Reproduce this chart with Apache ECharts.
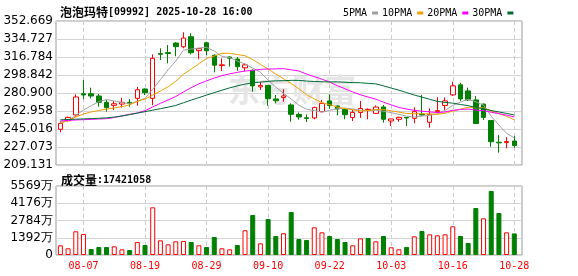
<!DOCTYPE html>
<html>
<head>
<meta charset="utf-8">
<script src="https://cdn.jsdelivr.net/npm/echarts@6/dist/echarts.min.js"></script>
<style>
  html, body { margin: 0; padding: 0; background: #fff; }
  #chart { width: 578px; height: 276px; }
</style>
</head>
<body>
<div id="chart"></div>
<script>
// 交易日
const dates = ['08-04','08-05','08-06','08-07','08-08','08-11','08-12','08-13','08-14','08-15',
  '08-18','08-19','08-20','08-21','08-22','08-25','08-26','08-27','08-28','08-29',
  '09-01','09-02','09-03','09-04','09-05','09-08','09-09','09-10','09-11','09-12',
  '09-15','09-16','09-17','09-18','09-19','09-22','09-23','09-24','09-25','09-26',
  '09-29','09-30','10-02','10-03','10-06','10-08','10-09','10-10','10-13','10-14',
  '10-15','10-16','10-17','10-20','10-21','10-22','10-23','10-24','10-27','10-28'];

const opens = [244.7,253.3,259.0,280.2,280.2,277.9,271.6,268.6,269.9,271.6,
  275.6,284.9,275.6,320.2,321.2,330.7,327.0,337.0,323.1,331.0,
  318.5,308.2,316.8,314.7,306.0,303.5,287.0,288.5,275.0,276.5,
  269.0,259.6,256.2,256.0,262.3,273.0,268.0,264.5,256.5,261.5,
  264.0,260.6,267.0,253.0,254.7,256.6,255.7,260.0,251.7,262.3,
  268.5,279.0,289.0,283.0,274.0,269.8,253.5,231.8,231.5,233.0];
const closes = [250.6,256.6,276.9,278.9,277.9,271.6,266.3,270.2,271.6,270.6,
  284.2,281.2,315.5,319.5,320.2,327.1,335.7,321.0,325.1,323.0,
  308.6,309.0,315.6,307.1,309.0,288.0,288.5,275.3,273.2,278.0,
  259.6,257.0,255.6,266.5,270.6,268.3,265.0,259.3,261.6,265.5,
  264.6,266.9,254.7,255.0,256.6,256.0,262.3,259.0,259.6,263.3,
  273.0,288.0,275.0,274.0,250.5,256.6,232.3,231.2,232.5,228.5];
const lows = [241.7,252.3,257.3,274.8,275.6,267.3,262.3,263.9,266.3,267.3,
  268.3,278.9,268.8,313.8,310.5,317.5,325.4,319.4,314.5,318.3,
  301.5,302.8,307.1,303.0,302.5,282.2,283.9,268.2,270.6,272.2,
  252.3,254.3,252.0,254.7,261.6,265.0,258.7,254.8,253.0,256.0,
  254.7,260.0,251.4,248.0,252.3,248.0,250.7,258.5,246.3,260.6,
  264.0,278.0,273.0,273.0,250.0,254.0,227.3,221.5,225.8,226.4];
const highs = [252.5,257.3,279.6,293.8,286.2,279.9,273.9,272.9,276.2,274.9,
  286.9,285.5,319.4,325.4,328.7,331.4,341.4,340.4,325.6,332.0,
  319.5,315.4,317.4,316.8,310.5,304.5,292.2,289.0,278.9,284.7,
  270.6,261.5,259.5,267.2,273.9,279.6,268.5,266.0,264.0,273.0,
  265.6,268.5,269.0,255.3,257.3,256.8,266.6,279.0,265.6,276.7,
  276.5,292.2,291.0,286.2,278.0,270.5,254.0,239.0,236.8,238.0];

// 成交量（万股）
const volumes = [783,540,1913,1695,484,646,646,700,457,403,
  1049,807,3847,1184,861,1103,1130,1049,783,646,
  1453,540,457,807,2000,3228,942,2900,1533,1760,
  3470,1291,1211,2233,1829,1533,1291,1049,783,1345,
  1372,1103,1533,621,457,646,1507,1937,1668,1587,
  1668,2315,1533,968,3793,2960,5165,3390,1829,1742.1058];

const ma5 = [251.5,253.5,258.5,264.0,268.2,272.4,274.3,273.0,271.5,270.1,
  272.6,275.6,284.6,294.2,304.1,312.7,323.6,324.7,325.8,326.4,
  322.7,317.3,316.3,312.7,309.9,305.7,301.6,293.6,286.8,280.6,
  274.9,268.6,264.7,263.3,261.9,263.6,265.2,265.9,265.0,263.9,
  263.2,263.6,262.7,261.3,259.6,257.8,256.9,257.8,258.7,260.0,
  263.4,268.6,271.8,274.7,272.1,268.8,257.7,248.9,240.6,236.2];
const ma10 = [250.5,253.5,257.0,260.0,262.0,263.5,264.8,266.0,267.3,269.1,
  272.5,274.9,278.8,282.9,287.1,292.6,299.6,304.7,310.0,315.3,
  317.7,320.5,320.5,319.2,318.1,314.2,309.5,304.9,299.7,295.2,
  290.3,285.1,279.1,275.1,271.2,269.3,266.9,265.3,264.2,262.9,
  263.4,264.4,264.3,263.2,261.8,260.5,260.3,260.2,260.0,259.8,
  260.6,262.8,264.8,266.7,266.1,266.1,263.1,260.4,257.6,254.2];
const ma20 = [253.0,253.6,254.0,254.3,254.6,255.0,255.3,256.5,258.0,259.7,
  261.0,263.3,267.0,270.6,273.9,277.4,282.0,286.2,290.0,293.0,
  295.8,298.2,300.0,301.5,302.8,303.4,304.5,304.8,304.9,305.2,
  304.0,302.8,299.8,297.2,294.7,291.7,288.2,285.1,281.9,279.1,
  276.9,274.8,271.7,269.1,266.5,264.9,263.6,262.8,262.1,261.4,
  262.0,263.6,264.5,264.9,263.9,263.3,261.7,260.3,258.8,257.0];
const ma30 = [254.2,254.5,254.8,255.1,255.4,255.7,256.1,256.9,258.0,259.3,
  260.8,262.3,263.8,265.3,266.8,268.5,271.2,273.8,276.3,278.8,
  281.3,283.7,286.0,288.0,289.8,291.0,291.8,292.5,293.0,293.2,
  293.5,293.5,292.8,292.4,292.1,292.0,292.0,291.6,291.3,291.1,
  290.5,290.0,288.0,285.8,283.7,281.3,278.9,276.8,274.6,272.6,
  271.5,270.8,269.4,268.3,266.4,265.3,263.4,262.0,260.6,259.0];

const labelIdx = [3, 11, 19, 27, 35, 43, 51, 59];
const priceTicks = [209.131, 227.073, 245.016, 262.958, 280.900, 298.842, 316.784, 334.727, 352.669];
const volTicks = [0, 1392.25, 2784.5, 4176.75, 5569];
const maNames = ['5PMA', '10PMA', '20PMA', '30PMA'];

const RED = '#ff0000';
const GREEN = '#008000';
const mono = 'DejaVu Sans Mono';
const cjk = 'Noto Sans CJK SC';

const chart = echarts.init(document.getElementById('chart'));
const idx = dates.map((d, i) => i);

const maColors = ['#a0a0a0', '#f0a000', '#ff00ff', '#006a35'];
const maLines = [ma5, ma10, ma20, ma30].map((arr, k) => ({
  name: maNames[k], type: 'line', xAxisIndex: 0, yAxisIndex: 0,
  data: idx.map(i => [i, arr[i]]),
  showSymbol: false, silent: true,
  lineStyle: { width: 1, color: maColors[k] },
  itemStyle: { color: maColors[k] },
}));

const xBase = {
  type: 'value', min: -0.57, max: 60,
  axisLine: { show: false },
  axisTick: { show: false, customValues: labelIdx },
  splitLine: { show: true, lineStyle: { color: '#cccccc', type: [4, 3] } },
};

chart.setOption({
  animation: false,
  title: [
    {
      left: 55, top: 1, text: '{a|泡泡玛特}{b|[09992] 2025-10-28 16:00}',
      textStyle: { rich: {
        a: { fontFamily: cjk, fontSize: 12, color: '#000' },
        b: { fontFamily: mono, fontSize: 10, color: '#000' },
      } },
    },
    {
      left: 56, top: 169, text: '{a|成交量}{b|:17421058}',
      textStyle: { rich: {
        a: { fontFamily: cjk, fontSize: 12, color: '#000' },
        b: { fontFamily: mono, fontSize: 10, color: '#000' },
      } },
    },
  ],
  legend: {
    left: 338, top: 3, itemWidth: 6, itemHeight: 3, itemGap: 4, align: 'right', icon: 'rect',
    textStyle: { fontFamily: mono, fontSize: 10, color: '#000' },
    data: maNames,
  },
  graphic: [{
    type: 'text', left: 228, top: 74, z: 1, silent: true,
    style: { text: '东方财富', fill: '#e6e6e6', font: 'bold 32px "Noto Sans CJK SC"' },
  }],
  grid: [
    { left: 56, top: 21, width: 466, height: 144, show: true, borderColor: '#999', borderWidth: 1 },
    { left: 56, top: 186, width: 466, height: 69, show: true, borderColor: '#999', borderWidth: 1 },
  ],
  xAxis: [
    Object.assign({ gridIndex: 0, axisLabel: { show: false, customValues: labelIdx } }, xBase),
    Object.assign({ gridIndex: 1, axisLabel: {
      show: true, customValues: labelIdx, formatter: v => dates[v],
      color: RED, fontFamily: mono, fontSize: 10, margin: 6,
    } }, xBase),
  ],
  yAxis: [
    {
      type: 'value', gridIndex: 0, min: 209.131, max: 352.669,
      axisLine: { show: false },
      axisTick: { show: false, customValues: priceTicks },
      axisLabel: { customValues: priceTicks, formatter: v => v.toFixed(3), color: '#000', fontFamily: 'DejaVu Sans', fontSize: 12, margin: 3 },
      splitLine: { lineStyle: { color: '#d4d4d4' } },
    },
    {
      type: 'value', gridIndex: 1, min: 0, max: 5569,
      axisLine: { show: false },
      axisTick: { show: false, customValues: volTicks },
      axisLabel: { customValues: volTicks, formatter: v => v === 0 ? '0' : Math.floor(v) + '万', color: '#000', fontFamily: 'DejaVu Sans', fontSize: 12, margin: 3 },
      splitLine: { lineStyle: { color: '#d4d4d4' } },
    },
  ],
  series: [
    {
      type: 'candlestick', xAxisIndex: 0, yAxisIndex: 0, barWidth: 5, silent: true,
      data: idx.map(i => [i, opens[i], closes[i], lows[i], highs[i]]),
      itemStyle: { color: '#fff', color0: GREEN, borderColor: RED, borderColor0: GREEN, borderWidth: 1 },
    },
    ...maLines,
    {
      type: 'bar', xAxisIndex: 1, yAxisIndex: 1, barWidth: 5, silent: true,
      data: idx.map(i => {
        const up = i === 0 || closes[i] >= closes[i - 1];
        return {
          value: [i, volumes[i]],
          itemStyle: up
            ? { color: '#fff', borderColor: RED, borderWidth: 1 }
            : { color: GREEN, borderColor: GREEN, borderWidth: 1 },
        };
      }),
    },
  ],
});
</script>
</body>
</html>
